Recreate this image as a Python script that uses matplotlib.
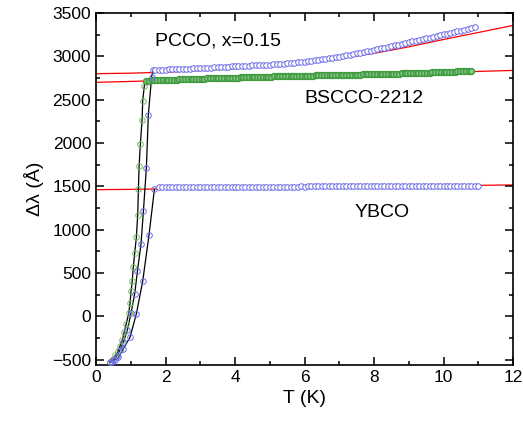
import numpy as np
import matplotlib.pyplot as plt

plt.rcParams['font.family'] = ['Liberation Sans', 'DejaVu Sans']

# ---- data ----
# low temperature transitions (lambda in Angstrom)
pcco_tr_T = [0.40, 0.50, 0.595, 0.69, 0.787, 0.902, 1.007, 1.113, 1.19, 1.295, 1.363, 1.449, 1.506, 1.60, 1.65]
pcco_tr_L = [-529, -502, -452, -386, -299, -156, 40, 260, 520, 836, 1212, 1716, 2328, 2766, 2845]

ybco_tr_T = [0.45, 0.55, 0.643, 0.78, 0.978, 1.16, 1.343, 1.525, 1.68]
ybco_tr_L = [-525, -500, -472, -375, -241, 29, 405, 940, 1466]

bscco_tr_T = [0.40, 0.50, 0.56, 0.63, 0.69, 0.76, 0.81, 0.87, 0.94, 0.978, 1.007, 1.043, 1.072,
              1.113, 1.16, 1.20, 1.22, 1.24, 1.276, 1.325, 1.344, 1.39, 1.44]
bscco_tr_L = [-521, -490, -449, -403, -340, -271, -183, -86, 36, 151, 290, 413, 566,
              728, 912, 1174, 1466, 1739, 1990, 2266, 2489, 2662, 2720]

# temperature sweeps of the plateaus
T_pcco = np.round(1.7 + 0.1 * np.arange(93), 2)
L_pcco = [2845, 2846, 2847, 2848, 2849, 2851, 2852, 2853, 2855, 2856,
          2858, 2860, 2862, 2864, 2866, 2868, 2870, 2872, 2875, 2877,
          2879, 2881, 2883, 2885, 2887, 2889, 2891, 2893, 2895, 2897,
          2899, 2901, 2903, 2905, 2908, 2911, 2914, 2917, 2920, 2924,
          2928, 2932, 2936, 2940, 2945, 2950, 2955, 2960, 2966, 2972,
          2978, 2984, 2990, 2997, 3004, 3011, 3018, 3025, 3033, 3041,
          3049, 3057, 3065, 3074, 3082, 3091, 3100, 3109, 3118, 3127,
          3136, 3145, 3154, 3163, 3172, 3181, 3190, 3199, 3208, 3217,
          3226, 3235, 3244, 3253, 3262, 3271, 3280, 3289, 3298, 3307,
          3316, 3325, 3334]

T_ybco = np.round(1.8 + 0.1 * np.arange(93), 2)
L_ybco = [1488, 1489, 1488, 1490, 1489, 1490, 1490, 1491, 1490, 1491,
          1491, 1490, 1492, 1491, 1492, 1492, 1493, 1492, 1493, 1493,
          1494, 1493, 1494, 1494, 1494, 1495, 1494, 1495, 1495, 1496,
          1495, 1496, 1496, 1497, 1496, 1497, 1497, 1498, 1497, 1498,
          1498, 1499, 1498, 1499, 1499, 1500, 1499, 1500, 1500, 1501,
          1500, 1501, 1501, 1502, 1501, 1502, 1502, 1503, 1502, 1503,
          1503, 1503, 1504, 1503, 1504, 1504, 1504, 1505, 1504, 1505,
          1505, 1505, 1506, 1505, 1506, 1506, 1506, 1507, 1506, 1507,
          1507, 1507, 1507, 1508, 1507, 1508, 1508, 1508, 1508, 1509,
          1508, 1509, 1509]

T_bscco = np.round(1.44 + 0.08 * np.arange(118), 2)
L_bscco = [2720, 2721, 2722, 2723, 2724, 2726, 2727, 2728, 2729, 2730,
           2731, 2733, 2734, 2735, 2736, 2737, 2738, 2739, 2740, 2741,
           2742, 2744, 2745, 2746, 2747, 2748, 2749, 2750, 2751, 2752,
           2753, 2754, 2755, 2756, 2757, 2758, 2759, 2760, 2761, 2762,
           2763, 2764, 2765, 2766, 2767, 2767, 2768, 2769, 2770, 2771,
           2772, 2773, 2774, 2775, 2776, 2777, 2777, 2778, 2778, 2779,
           2779, 2780, 2780, 2781, 2781, 2782, 2782, 2783, 2783, 2784,
           2784, 2785, 2786, 2787, 2788, 2789, 2790, 2790, 2791, 2792,
           2793, 2794, 2795, 2796, 2797, 2797, 2798, 2799, 2800, 2801,
           2801, 2802, 2803, 2804, 2805, 2806, 2807, 2808, 2809, 2810,
           2811, 2812, 2813, 2814, 2815, 2816, 2817, 2819, 2820, 2822,
           2823, 2825, 2826, 2828, 2829, 2831, 2832, 2834]

# red fit curves
fit_T = [0, 1, 2, 3, 4, 5, 6, 7, 8, 9, 10, 11, 12]
fit_pcco = [2800, 2806, 2818, 2836, 2860, 2890, 2927, 2975, 3035, 3110, 3195, 3275, 3357]
fit_bscco = [2700, 2711, 2722, 2735, 2748, 2759, 2770, 2780, 2790, 2802, 2815, 2826, 2838]
fit_ybco = [1462, 1466, 1471, 1475, 1480, 1485, 1489, 1494, 1498, 1503, 1508, 1512, 1517]

labels = {'PCCO, x=0.15': (1.70, 3180), 'BSCCO-2212': (6.0, 2510), 'YBCO': (7.45, 1200)}

blue = '#6a6ae8'
green = '#3f9a3f'

fig = plt.figure(figsize=(5.23, 4.25), dpi=100)
ax = fig.add_axes([0.1836, 0.1412, 0.7973, 0.8282])

for fit in [fit_pcco, fit_bscco, fit_ybco]:
    ax.plot(fit_T, fit, color='red', lw=0.9, zorder=1)

for t, l in [(pcco_tr_T, pcco_tr_L), (ybco_tr_T, ybco_tr_L), (bscco_tr_T, bscco_tr_L)]:
    ax.plot(t, l, color='black', lw=0.9, zorder=2)

tr = dict(ls='none', marker='o', mfc='none', ms=4.0, mew=0.7, zorder=3)
pl = dict(ls='none', marker='o', mfc='white', ms=4.0, mew=0.7, zorder=3)
ax.plot(bscco_tr_T, bscco_tr_L, mec='#6fbf5f', **tr)
ax.plot(T_bscco, L_bscco, ls='none', marker='o', mfc='#8cc88c', mec=green,
        ms=4.2, mew=1.1, zorder=3)
ax.plot(pcco_tr_T, pcco_tr_L, mec=blue, **tr)
ax.plot(T_pcco, L_pcco, mec=blue, **pl)
ax.plot(ybco_tr_T, ybco_tr_L, mec=blue, **tr)
ax.plot(T_ybco, L_ybco, mec=blue, **pl)

for txt, (x, y) in labels.items():
    ax.text(x, y, txt, fontsize=14, va='center', ha='left')

ax.set_xlim(0, 12)
ax.set_ylim(-560, 3500)
ax.set_xticks(np.arange(0, 13, 2))
ax.set_xticks(np.arange(0, 13, 1), minor=True)
ax.set_yticks(np.arange(-500, 3501, 500))
ax.set_yticks(np.arange(-500, 3501, 250), minor=True)
ax.tick_params(which='both', direction='in', top=True, right=True, labelsize=12.5, width=1.1)
ax.tick_params(which='major', length=6)
ax.tick_params(which='minor', length=3)
for s in ax.spines.values():
    s.set_linewidth(1.2)

ax.set_xlabel('T (K)', fontsize=14, labelpad=4)
ax.set_ylabel('Δλ (Å)', fontsize=14, labelpad=6)

fig.savefig('out.png', dpi=100)
